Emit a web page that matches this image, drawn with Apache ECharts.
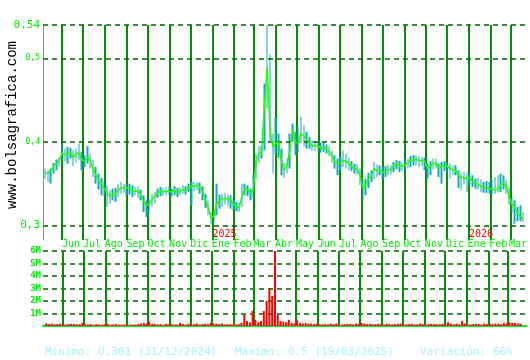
<!DOCTYPE html>
<html><head><meta charset="utf-8">
<script src="https://cdn.jsdelivr.net/npm/echarts@6/dist/echarts.min.js"></script>
<style>html,body{margin:0;padding:0;background:#fff}#c{width:530px;height:360px}</style>
</head><body><div id="c"></div>
<script>
// sampling grid: one point every 4 calendar days starting 2024-05-08
const startDate = '2024-05-08';
const stepDays = 4;
const close = [
.362,.363,.365,.371,.374,.377,.387,.385,.385,.387,
.381,.386,.387,.379,.377,.381,.378,.367,.361,.354,
.349,.345,.339,.335,.337,.338,.342,.345,.345,.345,
.344,.341,.341,.341,.337,.329,.324,.326,.331,.335,
.339,.341,.340,.341,.341,.340,.342,.339,.341,.343,
.342,.345,.347,.347,.348,.346,.340,.330,.321,.309,
.311,.326,.329,.332,.332,.332,.330,.325,.322,.321,
.335,.344,.343,.338,.342,.375,.386,.388,.445,.490,
.413,.394,.398,.400,.378,.366,.371,.390,.415,.400,
.399,.410,.407,.403,.399,.395,.395,.395,.393,.393,
.392,.389,.383,.377,.374,.375,.378,.377,.374,.371,
.368,.368,.359,.345,.348,.356,.359,.368,.366,.366,
.363,.365,.367,.367,.371,.374,.371,.371,.372,.375,
.378,.379,.379,.377,.378,.377,.368,.371,.374,.375,
.368,.371,.373,.371,.368,.367,.366,.360,.357,.357,
.356,.357,.353,.350,.349,.347,.345,.345,.344,.344,
.342,.344,.348,.351,.347,.335,.325,.322,.315,.311,
.308];
const low = [
.356,.352,.350,.362,.366,.370,.378,.377,.374,.380,
.371,.375,.378,.366,.370,.374,.368,.358,.350,.343,
.336,.335,.322,.326,.330,.328,.334,.338,.339,.336,
.337,.334,.336,.333,.330,.316,.310,.313,.323,.326,
.333,.335,.335,.336,.336,.335,.336,.334,.336,.338,
.337,.340,.324,.341,.342,.338,.330,.321,.312,.301,
.303,.312,.320,.322,.325,.323,.320,.318,.317,.316,
.322,.336,.335,.330,.333,.355,.375,.380,.390,.440,
.400,.362,.385,.381,.360,.357,.362,.368,.400,.384,
.388,.398,.395,.392,.392,.389,.389,.390,.387,.388,
.386,.383,.375,.368,.360,.366,.370,.368,.366,.365,
.362,.361,.348,.330,.336,.345,.352,.355,.358,.360,
.356,.358,.360,.361,.364,.367,.364,.365,.366,.368,
.370,.372,.372,.370,.371,.366,.356,.360,.367,.368,
.358,.350,.365,.362,.356,.360,.360,.345,.342,.349,
.340,.349,.346,.344,.343,.340,.339,.339,.338,.337,
.338,.339,.340,.343,.338,.325,.315,.302,.305,.305,
.304];
const high = [
.368,.366,.368,.375,.379,.381,.399,.392,.394,.393,
.390,.392,.398,.388,.384,.395,.386,.378,.370,.362,
.357,.352,.348,.342,.344,.345,.350,.352,.350,.349,
.350,.348,.346,.347,.343,.336,.330,.333,.338,.340,
.344,.346,.345,.346,.347,.344,.347,.345,.346,.348,
.347,.350,.352,.352,.352,.351,.347,.338,.330,.316,
.318,.350,.337,.338,.339,.337,.336,.331,.328,.327,
.350,.350,.348,.344,.362,.386,.395,.395,.470,.540,
.505,.410,.429,.410,.392,.375,.380,.410,.422,.412,
.418,.430,.420,.412,.406,.402,.401,.400,.399,.399,
.397,.395,.390,.384,.380,.383,.390,.386,.381,.377,
.374,.373,.368,.355,.356,.363,.366,.376,.373,.372,
.370,.371,.373,.372,.376,.378,.377,.376,.378,.380,
.383,.384,.384,.383,.382,.381,.374,.377,.380,.380,
.374,.376,.377,.376,.374,.372,.372,.366,.363,.364,
.363,.362,.360,.356,.357,.355,.352,.353,.352,.355,
.358,.360,.362,.360,.355,.345,.333,.330,.322,.324,
.316];
const volume = [
.2,.15,.2,.12,.15,.18,.15,.12,.15,.18,
.15,.12,.15,.25,.15,.12,.15,.1,.15,.12,
.1,.15,.18,.1,.12,.15,.1,.1,.12,.1,
.1,.1,.12,.15,.2,.25,.2,.35,.18,.15,
.12,.15,.1,.18,.12,.15,.1,.12,.25,.15,
.12,.18,.15,.15,.2,.12,.15,.18,.15,.25,
.2,.18,.15,.2,.12,.15,.15,.1,.12,.15,
.25,.9,.4,.3,1.2,.5,.3,.4,1.2,2.0,
3.0,2.4,6.0,.9,.4,.35,.3,.5,.25,.2,
.45,.25,.2,.25,.18,.2,.15,.18,.15,.12,
.15,.12,.18,.15,.2,.15,.12,.15,.18,.15,
.12,.2,.18,.25,.2,.15,.18,.12,.15,.18,
.15,.12,.18,.15,.12,.15,.18,.2,.15,.12,
.15,.18,.12,.15,.2,.15,.12,.15,.18,.15,
.12,.15,.18,.15,.3,.2,.15,.18,.15,.4,
.2,.15,.12,.15,.18,.15,.12,.2,.15,.18,
.15,.2,.18,.15,.25,.2,.3,.25,.25,.2,
.18];
const priceTicks = [0.3, 0.4, 0.5, 0.54];
const volumeTicks = [1, 2, 3, 4, 5, 6];
const monthNames = ['Ene','Feb','Mar','Abr','May','Jun','Jul','Ago','Sep','Oct','Nov','Dic'];
const axisMin = '2024-05-05';
const axisMax = '2026-03-26';
const statsTexts = ['Mínimo: 0,301 (31/12/2024)', 'Máximo: 0,5 (19/03/2025)', 'Variación: 66%'];
const siteText = 'www.bolsagrafica.com';

const DAY = 86400000;
const t0 = Date.parse(startDate + 'T00:00:00Z');
const dates = close.map((_, i) => t0 + i * stepDays * DAY);
const ohlc = close.map((c, i) => [dates[i], low[i], high[i], low[i], high[i]]);
const closeLine = close.map((c, i) => [dates[i], c]);
const volData = volume.map((v, i) => [dates[i], v]);

const MONO = '"DejaVu Sans Mono", monospace';
const GREEN = '#00ee00';
const VGRID = '#009000';
const DASH = '#006400';

const isMonthStart = v => new Date(v).getUTCDate() === 1;
const timeAxisBase = {
  type: 'time', min: axisMin, max: axisMax,
  minInterval: 28 * DAY, maxInterval: 31 * DAY, splitNumber: 22,
  axisTick: { show: false },
};
const vSplit = { show: true, showMinLine: false, showMaxLine: false, lineStyle: { color: VGRID, width: 2 } };

const chart = echarts.init(document.getElementById('c'), null, { renderer: 'canvas' });
chart.setOption({
  useUTC: true,
  animation: false,
  backgroundColor: '#ffffff',
  grid: [
    { left: 43, right: 2, top: 25, height: 215 },
    { left: 43, right: 2, top: 251, height: 75 }
  ],
  xAxis: [
    Object.assign({}, timeAxisBase, {
      gridIndex: 0,
      axisLine: { show: false },
      splitLine: vSplit,
      axisLabel: {
        inside: true, margin: 1, align: 'left', hideOverlap: false,
        color: '#ff0000', fontFamily: MONO, fontSize: 10,
        formatter: v => (isMonthStart(v) && new Date(v).getUTCMonth() === 0) ? String(new Date(v).getUTCFullYear()) : ''
      }
    }),
    Object.assign({}, timeAxisBase, {
      gridIndex: 1, position: 'bottom',
      axisLine: { show: true, lineStyle: { color: GREEN, width: 2 } },
      splitLine: vSplit,
      axisLabel: { show: false }
    }),
    Object.assign({}, timeAxisBase, {
      gridIndex: 1, position: 'top',
      axisLine: { show: false },
      splitLine: { show: false },
      axisLabel: {
        margin: 2, align: 'left', hideOverlap: false,
        color: GREEN, fontFamily: MONO, fontSize: 10,
        formatter: v => isMonthStart(v) ? monthNames[new Date(v).getUTCMonth()] : ''
      }
    })
  ],
  yAxis: [
    {
      type: 'value', gridIndex: 0, min: 0.2825, max: 0.54,
      axisLine: { show: true, lineStyle: { color: GREEN, width: 1 } },
      axisTick: { show: false },
      splitLine: { show: false },
      axisLabel: {
        customValues: priceTicks, margin: 3,
        formatter: v => {
          const s = String(+v.toFixed(2)).replace('.', ',');
          return (v === priceTicks[0] || v === priceTicks[priceTicks.length - 1]) ? '{big|' + s + '}' : '{small|' + s + '}';
        },
        rich: {
          big: { color: GREEN, fontFamily: MONO, fontSize: 11 },
          small: { color: GREEN, fontFamily: MONO, fontSize: 8 }
        }
      }
    },
    {
      type: 'value', gridIndex: 1, min: 0, max: 6, interval: 1,
      axisLine: { show: false },
      axisTick: { show: false },
      splitLine: { show: true, lineStyle: { color: DASH, type: [5, 4], width: 1.5 } },
      axisLabel: {
        margin: 2, color: GREEN, fontFamily: MONO, fontSize: 9, fontWeight: 'bold',
        formatter: v => volumeTicks.indexOf(v) >= 0 ? v + 'M' : ''
      }
    }
  ],
  series: [
    {
      type: 'candlestick', xAxisIndex: 0, yAxisIndex: 0, data: ohlc, barWidth: 2,
      itemStyle: { color: '#14a8b8', color0: '#14a8b8', borderColor: '#14a8b8', borderColor0: '#14a8b8', borderWidth: 0 },
      markLine: {
        silent: true, symbol: 'none', label: { show: false },
        lineStyle: { color: DASH, type: [5, 4], width: 1.5 },
        data: priceTicks.map(v => ({ yAxis: v }))
      }
    },
    {
      type: 'line', xAxisIndex: 0, yAxisIndex: 0, data: closeLine, showSymbol: false,
      lineStyle: { color: '#22ff00', width: 1.5 }, z: 5
    },
    {
      type: 'bar', xAxisIndex: 1, yAxisIndex: 1, data: volData, barWidth: 2, z: 6,
      itemStyle: { color: '#ff0000' }
    }
  ],
  graphic: [
    { type: 'text', x: 12, y: 125, rotation: Math.PI / 2,
      style: { text: siteText, font: '14px "Liberation Mono", monospace', fill: '#000', align: 'center', verticalAlign: 'middle' } },
    { type: 'text', x: 45, y: 352, style: { text: statsTexts[0], font: '11px ' + MONO, fill: '#aaeeff', verticalAlign: 'middle' } },
    { type: 'text', x: 235, y: 352, style: { text: statsTexts[1], font: '11px ' + MONO, fill: '#aaeeff', verticalAlign: 'middle' } },
    { type: 'text', x: 420, y: 352, style: { text: statsTexts[2], font: '11px ' + MONO, fill: '#aaeeff', verticalAlign: 'middle' } }
  ]
});
</script></body></html>
